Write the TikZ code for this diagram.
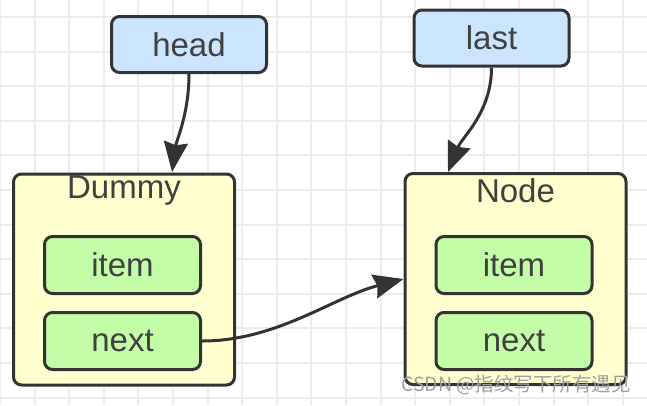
\documentclass[tikz,border=0pt]{standalone}
\usepackage{fontspec}
\setmainfont{Liberation Sans}
\newfontfamily\cjkfont{Noto Sans CJK SC}
\usetikzlibrary{arrows.meta}
\definecolor{ref-blue}{RGB}{204, 229, 255}
\definecolor{ref-yellow}{RGB}{255, 255, 208}
\definecolor{ref-green}{RGB}{196, 253, 168}
\definecolor{ref-border}{RGB}{51, 51, 51}
\definecolor{ref-text}{RGB}{64, 64, 64}
\definecolor{ref-grid}{RGB}{236, 236, 236}
\newcommand{\boxfont}{\fontsize{33}{36}\selectfont}

\begin{document}
\begin{tikzpicture}[x=1pt, y=-1pt,
    gridline/.style={draw=ref-grid, line width=2pt},
    box/.style={draw=ref-border, line width=3pt, rounded corners=8pt, text=ref-text, font=\boxfont, inner sep=0pt},
    namebox/.style={box, fill=ref-blue, minimum width=155pt, minimum height=56pt},
    recordbox/.style={box, fill=ref-yellow, minimum width=221pt, minimum height=211pt},
    fieldbox/.style={box, fill=ref-green, minimum width=156pt, minimum height=57pt},
    title/.style={text=ref-text, font=\boxfont, inner sep=0pt},
    link/.style={draw=ref-border, line width=3pt, -{Stealth[length=30pt, width=24pt, inset=3pt]}}]
\useasboundingbox (0,0) rectangle (647,405);
\fill[white] (0,0) rectangle (647,405);
% grid
\foreach \gx in {0,...,18}
    \draw[gridline] (34.6*\gx,0) -- (34.6*\gx,405);
\foreach \gy in {0,...,11}
    \draw[gridline] (0,17+34.6*\gy) -- (647,17+34.6*\gy);
% pointers
\node[namebox] (head) at (189,44.5) {head};
\node[namebox] (last) at (491.5,38) {last};
% records
\node[recordbox] (dummy) at (124,279.5) {};
\node[title] (dummytitle) at (124,191) {Dummy};
\node[fieldbox] (dummyitem) at (122.5,265) {item};
\node[fieldbox] (dummynext) at (122.5,341) {next};
\node[recordbox] (node) at (515.5,279) {};
\node[title] (nodetitle) at (515.5,191) {Node};
\node[fieldbox] (nodeitem) at (514,265) {item};
\node[fieldbox] (nodenext) at (514,341) {next};
\coordinate (dummyin) at (172,172);
\coordinate (nodein) at (448,172);
% links
\draw[link] (head.south) .. controls +(0,40) and +(4,-30) .. (dummyin);
\draw[link] (last.south) .. controls +(0,45) and +(14,-35) .. (nodein);
\draw[link] (dummynext.east) .. controls +(75,0) and +(-70,18) .. (node.west);
% watermark
\node[text=gray!75, font=\cjkfont\fontsize{19.5}{21}\selectfont, inner sep=0pt] (mark) at (516,385) {CSDN @指纹写下所有遇见};
\end{tikzpicture}
\end{document}
